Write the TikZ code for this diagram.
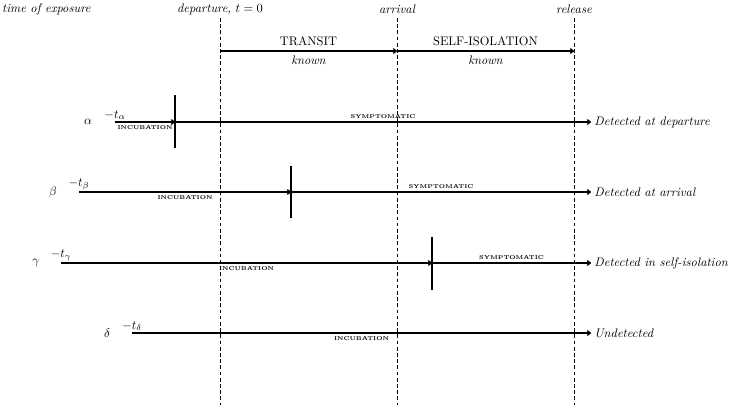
\documentclass[tikz,border=0pt]{standalone}
\usetikzlibrary{arrows.meta}
\begin{document}
\begin{tikzpicture}[x=0.806pt,y=-0.806pt,
  timeline/.style={line width=1.1pt,-{To[length=3.4pt,width=4.6pt]}},
  phase/.style={line width=1.1pt,-{To[length=3.4pt,width=4.6pt]}},
  marker/.style={line width=1pt},
  milestone/.style={line width=0.7pt,dash pattern=on 3pt off 2pt},
  tinylab/.style={font=\fontsize{4.5}{5}\selectfont\bfseries,inner sep=2pt},
  outcome/.style={right,font=\itshape,inner sep=2.6pt},
  header/.style={font=\itshape,inner sep=0pt},
  rowlab/.style={inner sep=0pt},
  startlab/.style={above,inner sep=1.5pt}]
\useasboundingbox (0,0) rectangle (730,405);
% header
\node[header,anchor=west] (expo) at (2,9) {time of exposure};
\node[header] (dep) at (220,9) {departure, $t=0$};
\node[header] (arr) at (397,9) {arrival};
\node[header] (rel) at (574,9) {release};
% dashed milestones
\coordinate (d1) at (220,18); \coordinate (d1b) at (220,405);
\coordinate (a1) at (397,18); \coordinate (a1b) at (397,405);
\coordinate (r1) at (574,18); \coordinate (r1b) at (574,405);
\draw[milestone] (d1) -- (d1b);
\draw[milestone] (a1) -- (a1b);
\draw[milestone] (r1) -- (r1b);
% transit / self-isolation
\coordinate (T0) at (220,51); \coordinate (T1) at (397,51); \coordinate (T2) at (574,51);
\draw[phase] (T0) -- node[above,inner sep=3.5pt] (tr) {TRANSIT} node[below,inner sep=3.5pt,font=\itshape] (k1) {known} (T1);
\draw[phase] (T1) -- node[above,inner sep=3.5pt] (si) {SELF-ISOLATION} node[below,inner sep=3.5pt,font=\itshape] (k2) {known} (T2);
% alpha
\coordinate (as) at (115,122); \coordinate (at) at (175,122); \coordinate (ae) at (591,122);
\coordinate (at1) at (175,95); \coordinate (at2) at (175,148);
\node[rowlab] (al) at (88,122) {$\alpha$};
\node[startlab] (als) at (as) {$-t_\alpha$};
\draw[timeline] (as) -- node[below,tinylab] (ai) {INCUBATION} (at);
\draw[timeline] (at) -- node[above,tinylab] (asy) {SYMPTOMATIC} (ae);
\draw[marker] (at1) -- (at2);
\node[outcome] (ao) at (ae) {Detected at departure};
% beta
\coordinate (bs) at (79,192); \coordinate (bt) at (291,192); \coordinate (be) at (591,192);
\coordinate (bt1) at (291,166); \coordinate (bt2) at (291,218);
\node[rowlab] (bl) at (53,192) {$\beta$};
\node[startlab] (bls) at (bs) {$-t_\beta$};
\draw[timeline] (bs) -- node[below,tinylab] (bi) {INCUBATION} (bt);
\draw[timeline] (bt) -- node[above,tinylab] (bsy) {SYMPTOMATIC} (be);
\draw[marker] (bt1) -- (bt2);
\node[outcome] (bo) at (be) {Detected at arrival};
% gamma
\coordinate (gs) at (61,263); \coordinate (gt) at (432,263); \coordinate (ge) at (591,263);
\coordinate (gt1) at (432,237); \coordinate (gt2) at (432,290);
\node[rowlab] (gl) at (36,263) {$\gamma$};
\node[startlab] (gls) at (gs) {$-t_\gamma$};
\draw[timeline] (gs) -- node[below,tinylab] (gi) {INCUBATION} (gt);
\draw[timeline] (gt) -- node[above,tinylab] (gsy) {SYMPTOMATIC} (ge);
\draw[marker] (gt1) -- (gt2);
\node[outcome] (go) at (ge) {Detected in self-isolation};
% delta
\coordinate (ds) at (132,333); \coordinate (de) at (591,333);
\node[rowlab] (dl) at (107,333) {$\delta$};
\node[startlab] (dls) at (ds) {$-t_\delta$};
\draw[timeline] (ds) -- node[below,tinylab] (di) {INCUBATION} (de);
\node[outcome] (do) at (de) {Undetected};
\end{tikzpicture}
\end{document}
